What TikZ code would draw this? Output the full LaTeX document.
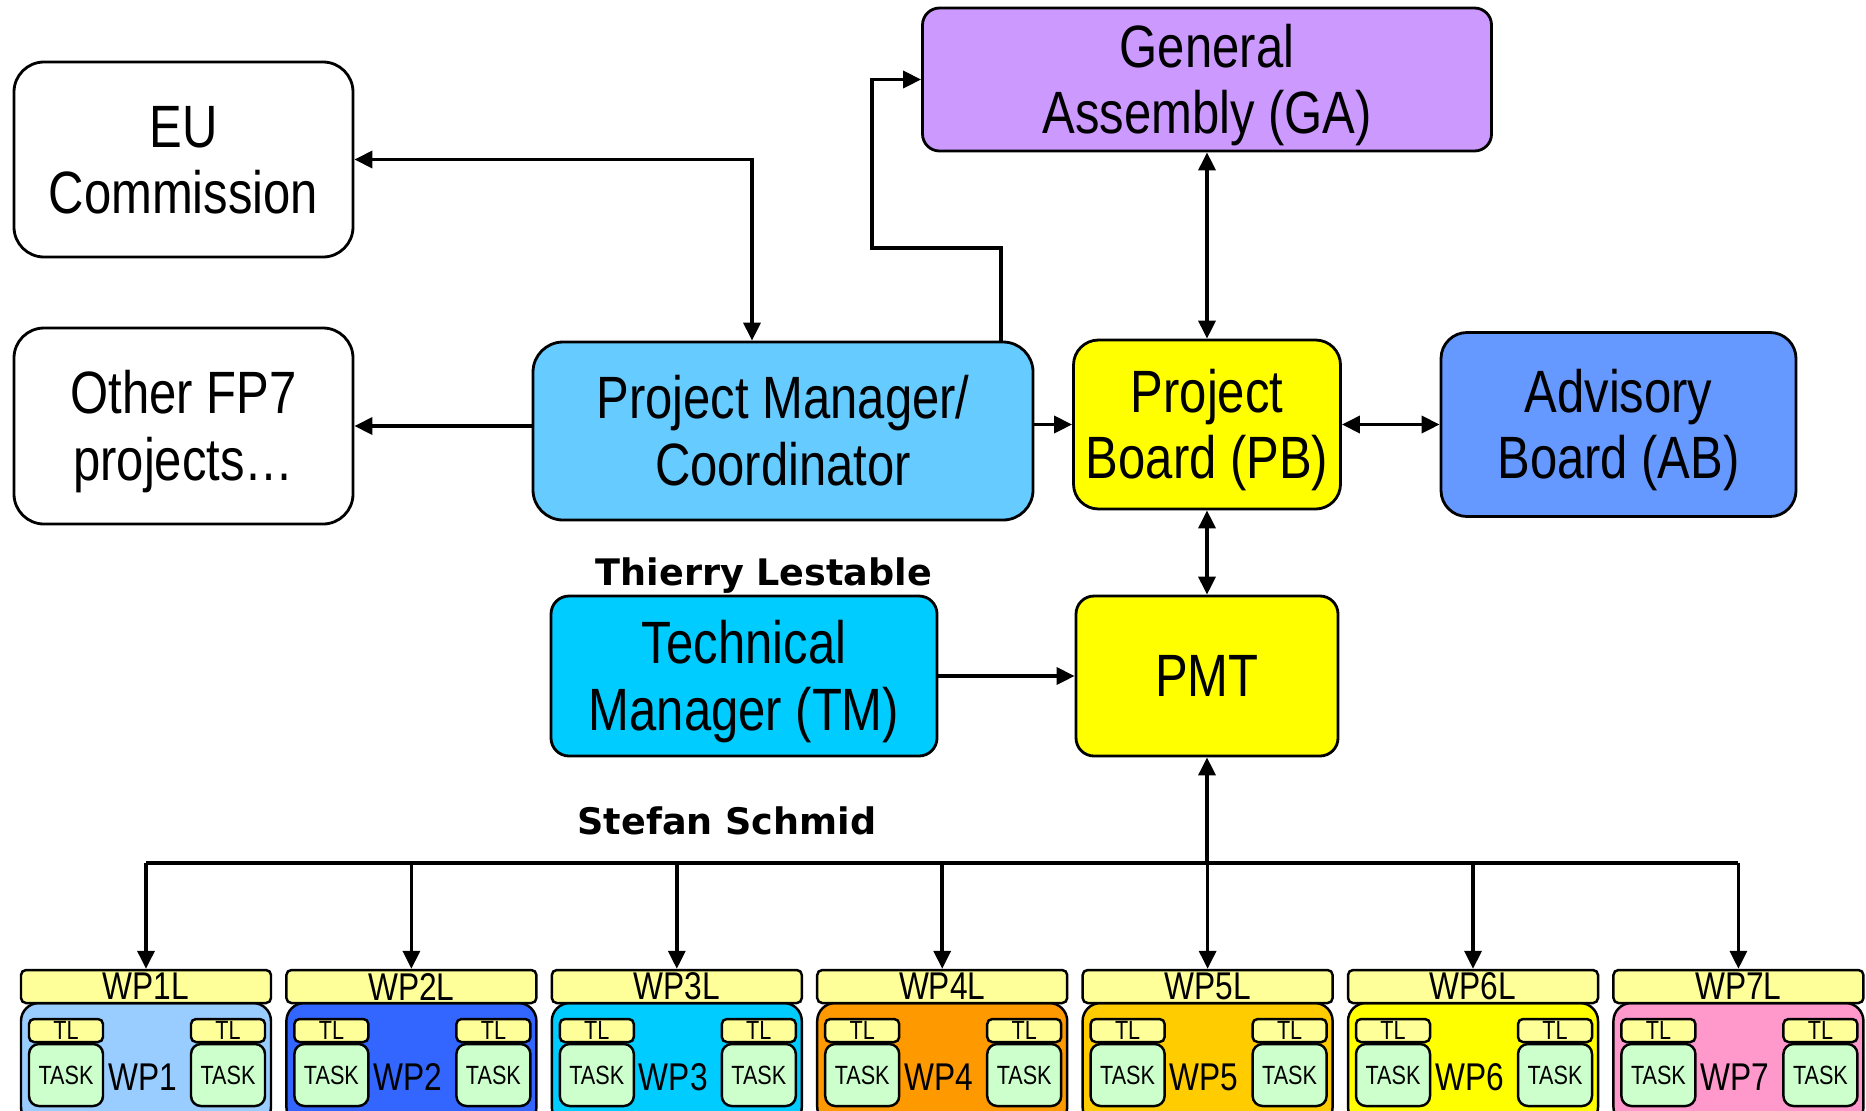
\documentclass[tikz,border=0pt]{standalone}
\usepackage{fontspec}
\setmainfont{Liberation Sans}[FakeStretch=0.82]
\newfontfamily\namefont{DejaVu Sans}
\usepackage{tikz}
\usetikzlibrary{arrows.meta}
\usepackage{xcolor}
\definecolor{pmblue}{RGB}{102,204,255}
\definecolor{gapurple}{RGB}{204,153,255}
\definecolor{pbyellow}{RGB}{255,255,0}
\definecolor{abblue}{RGB}{102,153,255}
\definecolor{tmcyan}{RGB}{0,204,255}
\definecolor{lyellow}{RGB}{255,255,153}
\definecolor{taskgreen}{RGB}{204,255,204}
\definecolor{wpa}{RGB}{153,204,255}
\definecolor{wpb}{RGB}{51,102,255}
\definecolor{wpc}{RGB}{0,204,255}
\definecolor{wpd}{RGB}{255,153,0}
\definecolor{wpe}{RGB}{255,204,0}
\definecolor{wpf}{RGB}{255,255,0}
\definecolor{wpg}{RGB}{255,153,204}

\begin{document}
\begin{tikzpicture}[
  >={Triangle[length=1.8mm,width=1.7mm]},
  box/.style={draw, line width=0.8pt, align=center, inner sep=0pt,
    font=\fontsize{17}{19}\selectfont},
  twoline/.style={box, text height=31pt, text depth=0pt},
  link/.style={line width=1pt},
  who/.style={font=\namefont\bfseries\fontsize{10.4}{12}\selectfont},
  lead/.style={draw, line width=0.7pt, rounded corners=0.05cm, fill=lyellow,
    minimum width=2.5cm, minimum height=0.33cm, inner sep=0pt, font=\fontsize{11}{12}\selectfont},
  wpbody/.style={draw, line width=0.7pt, rounded corners=0.18cm,
    minimum width=2.5cm, minimum height=1.22cm, inner sep=0pt},
  tl/.style={draw, line width=0.7pt, rounded corners=0.05cm, fill=lyellow,
    minimum width=0.74cm, minimum height=0.23cm, inner sep=0pt, font=\fontsize{7.5}{8}\selectfont},
  task/.style={draw, line width=0.7pt, rounded corners=0.1cm, fill=taskgreen,
    minimum width=0.74cm, minimum height=0.62cm, inner sep=0pt, font=\fontsize{7.5}{8}\selectfont}
]
  \useasboundingbox (0,0) rectangle (18.66,11.1);
  \clip (0,0) rectangle (18.66,11.1);

  % Boards
  \node[twoline, fill=white, rounded corners=0.3cm, minimum width=3.39cm, minimum height=1.95cm] (eu) at (1.835,9.505) {EU\\Commission};
  \node[twoline, fill=white, rounded corners=0.3cm, minimum width=3.39cm, minimum height=1.96cm] (oth) at (1.835,6.84) {Other FP7\\projects\ldots};
  \node[twoline, fill=pmblue, rounded corners=0.3cm, minimum width=5cm, minimum height=1.78cm] (pm) at (7.83,6.79) {Project Manager/\\Coordinator};
  \node[twoline, fill=gapurple, rounded corners=0.17cm, minimum width=5.69cm, minimum height=1.43cm] (ga) at (12.07,10.305) {General\\Assembly (GA)};
  \node[twoline, fill=pbyellow, rounded corners=0.25cm, minimum width=2.67cm, minimum height=1.69cm] (pb) at (12.07,6.855) {Project\\Board (PB)};
  \node[twoline, fill=abblue, rounded corners=0.26cm, minimum width=3.55cm, minimum height=1.84cm] (ab) at (16.185,6.855) {Advisory\\Board (AB)};
  \node[twoline, fill=tmcyan, rounded corners=0.18cm, minimum width=3.86cm, minimum height=1.6cm] (tm) at (7.44,4.34) {Technical\\Manager (TM)};
  \node[box, fill=pbyellow, rounded corners=0.18cm, minimum width=2.62cm, minimum height=1.6cm] (pmt) at (12.07,4.34) {PMT};

  % Names
  \node[who] (thl) at (7.64,5.34) {Thierry Lestable};
  \node[who] (sts) at (7.27,2.89) {Stefan Schmid};

  % Links between boards
  \draw[link, <->] (eu.east) -| ([xshift=-0.31cm]pm.north);
  \draw[link, ->] (pm.west |- oth.east) -- (oth.east);
  \draw[link, ->] ([xshift=2.18cm]pm.north) |- (8.72,8.62) |- (ga.west);
  \draw[link, ->] (pm.east |- pb.west) -- (pb.west);
  \draw[link, <->] (ga.south) -- (pb.north);
  \draw[link, <->] (pb.east) -- (ab.west);
  \draw[link, <->] (pb.south) -- (pmt.north);
  \draw[link, ->] (tm.east) -- (pmt.west);

  % Work packages
  \coordinate (bus) at (0,2.47);
  \foreach \i/\col in {1/wpa,2/wpb,3/wpc,4/wpd,5/wpe,6/wpf,7/wpg} {
    \pgfmathsetmacro\x{1.46+2.654*(\i-1)}
    \node[wpbody, fill=\col] (wp\i) at (\x,0.46) {};
    \node[lead] (wpl\i) at (\x,1.235) {WP\i L};
    \node[tl] (tla\i) at ({\x-0.80},0.795) {TL};
    \node[tl] (tlb\i) at ({\x+0.82},0.795) {TL};
    \node[task] (ta\i) at ({\x-0.80},0.35) {TASK};
    \node[task] (tb\i) at ({\x+0.82},0.35) {TASK};
    \node[font=\fontsize{11}{12}\selectfont, inner sep=0pt] (wpt\i) at ({\x-0.035},0.33) {WP\i};
    \draw[link, ->] (wpl\i.north |- bus) -- (wpl\i.north);
  }
  \draw[link] (wpl1.north |- bus) -- (wpl7.north |- bus);
  \draw[link, ->] (pmt.south |- bus) -- (pmt.south);
\end{tikzpicture}
\end{document}
